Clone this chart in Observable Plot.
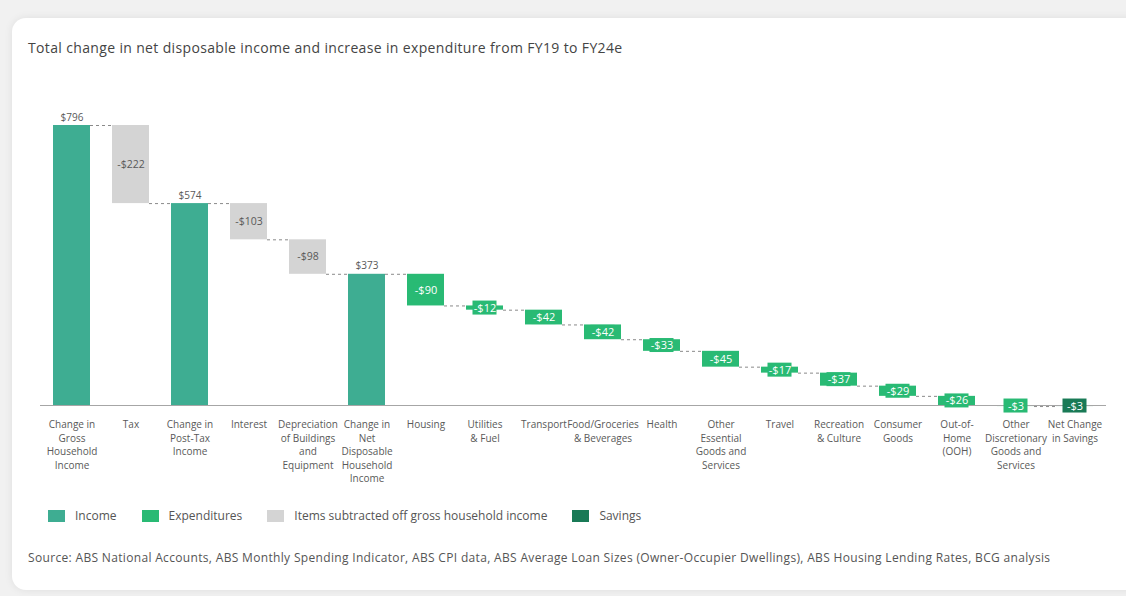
<!DOCTYPE html>
<html><head><meta charset="utf-8">
<script src="https://cdn.jsdelivr.net/npm/d3@7"></script>
<script src="https://cdn.jsdelivr.net/npm/@observablehq/plot@0.6"></script>
<style>
html,body{margin:0;padding:0;width:1126px;height:596px;overflow:hidden;background:#f1f1f1;font-family:"Open Sans",sans-serif;}
#card{position:absolute;left:12px;top:18px;width:1140px;height:572px;background:#fff;border-radius:14px;box-shadow:0 0 8px rgba(0,0,0,0.08);}
#title{position:absolute;left:28px;top:38px;font-size:14px;letter-spacing:0.35px;color:#444;white-space:nowrap;}
#chart{position:absolute;left:0;top:80px;}
#legend{position:absolute;left:48px;top:507px;display:flex;align-items:center;font-size:12px;color:#555;white-space:nowrap;}
#legend .item{display:flex;align-items:center;margin-right:25px;}
#legend .sw{width:17px;height:12px;margin-right:10px;}
#source{position:absolute;left:28px;top:549px;font-size:12px;letter-spacing:0.33px;color:#555;white-space:nowrap;}
</style></head>
<body>
<div id="card"></div>
<div id="title">Total change in net disposable income and increase in expenditure from FY19 to FY24e</div>
<div id="chart"></div>
<div id="legend"></div>
<div id="source">Source: ABS National Accounts, ABS Monthly Spending Indicator, ABS CPI data, ABS Average Loan Sizes (Owner-Occupier Dwellings), ABS Housing Lending Rates, BCG analysis</div>
<script>
const categories = [
  "Change in\nGross\nHousehold\nIncome",
  "Tax",
  "Change in\nPost-Tax\nIncome",
  "Interest",
  "Depreciation\nof Buildings\nand\nEquipment",
  "Change in\nNet\nDisposable\nHousehold\nIncome",
  "Housing",
  "Utilities\n& Fuel",
  "Transport",
  "Food/Groceries\n& Beverages",
  "Health",
  "Other\nEssential\nGoods and\nServices",
  "Travel",
  "Recreation\n& Culture",
  "Consumer\nGoods",
  "Out-of-\nHome\n(OOH)",
  "Other\nDiscretionary\nGoods and\nServices",
  "Net Change\nin Savings"
];
const values = [796, -222, 574, -103, -98, 373, -90, -12, -42, -42, -33, -45, -17, -37, -29, -26, -3, -3];
const typeNames = ["Income", "Expenditures", "Items subtracted off gross household income", "Savings"];
const typeColors = ["#3EAD92", "#29BA74", "#D4D4D4", "#197A56"];
const kinds = ["Income","Items subtracted off gross household income","Income",
  "Items subtracted off gross household income","Items subtracted off gross household income","Income",
  "Expenditures","Expenditures","Expenditures","Expenditures","Expenditures","Expenditures",
  "Expenditures","Expenditures","Expenditures","Expenditures","Expenditures","Savings"];

let run = 0;
const rows = categories.map((c, i) => {
  const v = values[i], k = kinds[i];
  let y1, y2;
  if (k === "Income" || k === "Savings") { y1 = 0; y2 = v; run = v; }
  else { y1 = run; y2 = run + v; run = y2; }
  return {c, v, k, y1, y2, end: run, mid: (y1 + y2) / 2,
    label: (v < 0 ? "-$" : "$") + Math.abs(v)};
});
const links = rows.slice(0, -1).map((r, i) => ({a: r.c, b: rows[i + 1].c, y: r.end}));

const W = 1126, H = 420, mL = 40, mR = 20, mT = 45, mB = 95;
const pIn = 0.374, pOut = 0.2025;
const step = (W - mL - mR) / (categories.length - pIn + 2 * pOut);
const bw = step * (1 - pIn);

const boxed = rows.filter(r => r.k === "Expenditures" || r.k === "Savings");
const chart = Plot.plot({
  width: W, height: H,
  marginLeft: mL, marginRight: mR, marginTop: mT, marginBottom: mB,
  style: {fontFamily: "Open Sans, sans-serif", background: "transparent", color: "#595959"},
  x: {domain: categories, paddingInner: pIn, paddingOuter: pOut},
  y: {domain: [0, 796], axis: null},
  color: {domain: typeNames, range: typeColors},
  marks: [
    Plot.ruleY(links, {x1: "a", x2: "b", y: "y", stroke: "#8a8a8a", strokeDasharray: "3,3",
      insetLeft: bw, insetRight: bw}),
    Plot.barY(rows, {x: "c", y1: "y1", y2: "y2", fill: "k"}),
    Plot.ruleY([0], {stroke: "#a6a6a6"}),
    Plot.barY(boxed, {x: "c", y1: "mid", y2: "mid", fill: "k",
      insetLeft: 6.5, insetRight: 6.5, insetTop: -7, insetBottom: -7}),
    Plot.text(rows.filter(r => r.k === "Income"), {x: "c", y: "y2", text: "label", dy: -8,
      fill: "#595959", fontSize: 10}),
    Plot.text(rows.filter(r => r.k === "Items subtracted off gross household income"),
      {x: "c", y: "mid", text: "label", fill: "#595959", fontSize: 10.5}),
    Plot.text(boxed, {x: "c", y: "mid", text: "label", fill: "white", fontSize: 11}),
    Plot.axisX({tickSize: 0, tickPadding: 13, fontSize: 10, lineHeight: 1.35,
      tickFormat: d => d, fill: "#595959"})
  ]
});
document.getElementById("chart").appendChild(chart);

const legend = document.getElementById("legend");
typeNames.forEach((n, i) => {
  const it = document.createElement("div"); it.className = "item";
  const sw = document.createElement("div"); sw.className = "sw"; sw.style.background = typeColors[i];
  const tx = document.createElement("span"); tx.textContent = n;
  it.appendChild(sw); it.appendChild(tx); legend.appendChild(it);
});
</script>
</body></html>
